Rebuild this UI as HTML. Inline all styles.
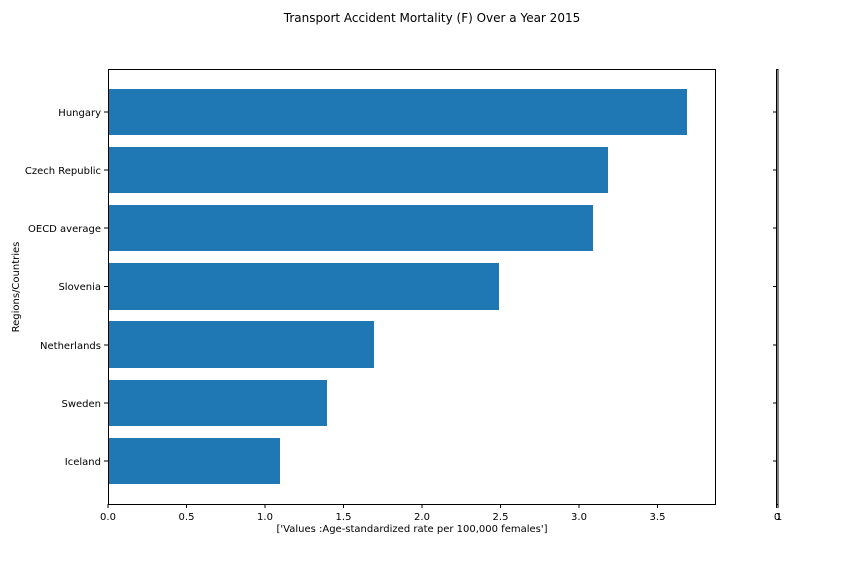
<!DOCTYPE html>
<html><head><style>body{margin:0;background:#fff}</style></head><body>
<svg width="864" height="576" xmlns="http://www.w3.org/2000/svg" font-family="DejaVu Sans, Liberation Sans, sans-serif" font-size="10">
<rect width="864" height="576" fill="#fff"/>
<text x="432" y="22" text-anchor="middle" font-size="12">Transport Accident Mortality (F) Over a Year 2015</text>
<g fill="#1f77b4">
<rect x="108" y="89" width="579" height="46"/>
<rect x="108" y="147" width="500" height="46"/>
<rect x="108" y="205" width="485" height="46"/>
<rect x="108" y="263" width="391" height="47"/>
<rect x="108" y="321" width="266" height="47"/>
<rect x="108" y="380" width="219" height="46"/>
<rect x="108" y="438" width="172" height="46"/>
</g>
<rect x="108.5" y="69.5" width="607" height="435" fill="none" stroke="#000" stroke-width="1"/>
<g stroke="#000">
<line x1="108" y1="504" x2="108" y2="508"/><line x1="186.5" y1="504" x2="186.5" y2="508"/><line x1="265" y1="504" x2="265" y2="508"/><line x1="343.5" y1="504" x2="343.5" y2="508"/><line x1="422" y1="504" x2="422" y2="508"/><line x1="500.5" y1="504" x2="500.5" y2="508"/><line x1="579" y1="504" x2="579" y2="508"/><line x1="657.5" y1="504" x2="657.5" y2="508"/>
<line x1="104" y1="112" x2="108" y2="112"/><line x1="104" y1="170" x2="108" y2="170"/><line x1="104" y1="228" x2="108" y2="228"/><line x1="104" y1="286.5" x2="108" y2="286.5"/><line x1="104" y1="345" x2="108" y2="345"/><line x1="104" y1="403" x2="108" y2="403"/><line x1="104" y1="461" x2="108" y2="461"/>
</g>
<g text-anchor="middle">
<text x="108" y="520">0.0</text><text x="186.5" y="520">0.5</text><text x="265" y="520">1.0</text><text x="343.5" y="520">1.5</text><text x="422" y="520">2.0</text><text x="500.5" y="520">2.5</text><text x="579" y="520">3.0</text><text x="657.5" y="520">3.5</text>
<text x="412" y="532">['Values :Age-standardized rate per 100,000 females']</text>
</g>
<g text-anchor="end">
<text x="101" y="116">Hungary</text><text x="101" y="174">Czech Republic</text><text x="101" y="232">OECD average</text><text x="101" y="290">Slovenia</text><text x="101" y="349">Netherlands</text><text x="101" y="407">Sweden</text><text x="101" y="465">Iceland</text>
</g>
<text transform="translate(19,287) rotate(-90)" text-anchor="middle">Regions/Countries</text>
<rect x="776.5" y="69.5" width="1.5" height="435" fill="none" stroke="#000" stroke-width="1"/>
<g stroke="#000">
<line x1="773" y1="112" x2="776" y2="112"/><line x1="773" y1="170" x2="776" y2="170"/><line x1="773" y1="228" x2="776" y2="228"/><line x1="773" y1="286.5" x2="776" y2="286.5"/><line x1="773" y1="345" x2="776" y2="345"/><line x1="773" y1="403" x2="776" y2="403"/><line x1="773" y1="461" x2="776" y2="461"/>
<line x1="776.5" y1="504" x2="776.5" y2="508"/><line x1="778" y1="504" x2="778" y2="508"/>
</g>
<text x="777" y="520" text-anchor="middle">0</text><text x="779" y="520" text-anchor="middle">1</text>
</svg>
</body></html>
